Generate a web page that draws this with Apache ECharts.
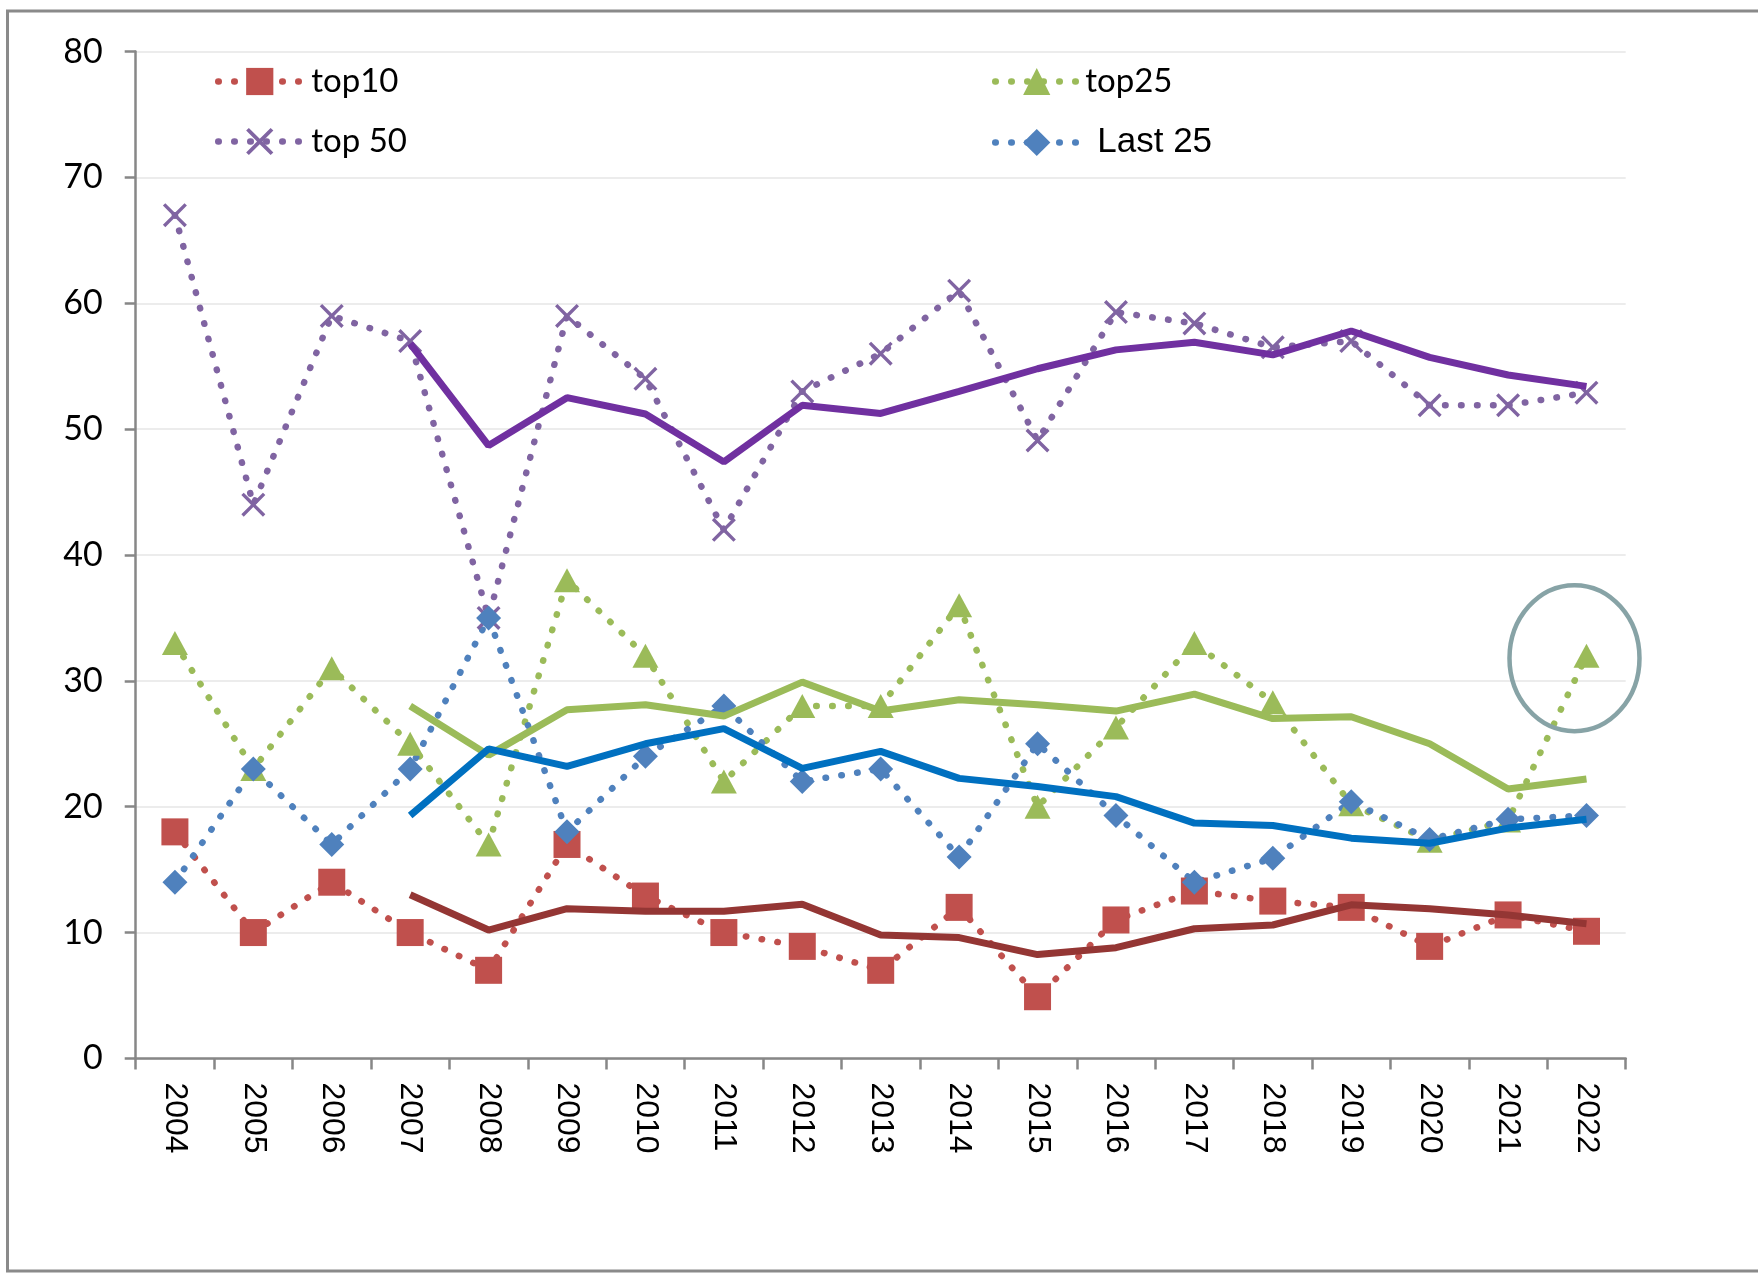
<!DOCTYPE html>
<html>
<head>
<meta charset="utf-8">
<script src="https://cdn.jsdelivr.net/npm/echarts@6/dist/echarts.min.js"></script>
<style>
html,body{margin:0;padding:0;background:#fff;}
#chart{width:1758px;height:1274px;}
</style>
</head>
<body>
<div id="chart"></div>
<script>
const years = ['2004','2005','2006','2007','2008','2009','2010','2011','2012','2013','2014','2015','2016','2017','2018','2019','2020','2021','2022'];
const yTicks = [0,10,20,30,40,50,60,70,80];

// dotted series (with markers)
const top10  = [18,10,14,10,7,17,12.9,10,8.9,7,12,4.9,11,13.3,12.5,12,8.9,11.4,10.1];
const top25  = [33,23,31,25,17,38,32,22,28,28,36,20,26.3,33,28.3,20.2,17.3,18.9,32];
const top50  = [67,44,59,57,35,59,54,42,53,56,61,49.1,59.3,58.4,56.5,57,51.9,51.9,52.9];
const last25 = [14,23,17,23,35,18,24,28,22,23,16,25,19.3,14,15.9,20.4,17.4,19,19.3];

// solid trend lines (start in 2007)
const top10Trend  = [null,null,null,13,10.2,11.9,11.7,11.7,12.25,9.8,9.6,8.25,8.8,10.3,10.6,12.2,11.9,11.4,10.7];
const top25Trend  = [null,null,null,28,24.1,27.7,28.1,27.2,29.9,27.6,28.5,28.1,27.6,28.95,27.0,27.15,25.0,21.4,22.2];
const top50Trend  = [null,null,null,56.8,48.7,52.5,51.2,47.4,51.9,51.25,53.0,54.8,56.3,56.9,55.9,57.8,55.7,54.3,53.4];
const last25Trend = [null,null,null,19.3,24.6,23.2,25.0,26.2,23.05,24.4,22.25,21.6,20.8,18.7,18.5,17.5,17.1,18.3,19.0];

const XPATH = 'path://M0,10L10,0L50,40L90,0L100,10L60,50L100,90L90,100L50,60L10,100L0,90L40,50Z';
const dotStyle = (c) => ({color:c, width:6.5, type:[0.5,15.5], cap:'round', join:'round'});

const chart = echarts.init(document.getElementById('chart'), null, {renderer:'canvas'});

function legendItem(name, left, top, font, size, pad){
  return {
    data:[name], left:left, top:top, padding:0, orient:'horizontal',
    itemWidth:87, itemHeight:34, selectedMode:false,
    lineStyle:{width:6.5, type:[0.5,15.5], cap:'round', join:'round', dashOffset:-2},
    textStyle:{fontFamily:font, fontSize:size, color:'#000', padding:[0,0,0,pad]}
  };
}

const option = {
  animation:false,
  backgroundColor:'#ffffff',
  grid:{left:135.7, right:132.3, top:51.6, bottom:215.6, containLabel:false},
  legend:[
    legendItem('top10', 213, 65, 'Lato', 33, 3),
    legendItem('top 50', 213, 125, 'Lato', 33, 3),
    legendItem('top25', 990, 65, 'Lato', 33, 0),
    legendItem('Last 25', 990, 125, 'Liberation Sans', 35, 12)
  ],
  xAxis:{
    type:'category', data:years, boundaryGap:true,
    axisLine:{lineStyle:{color:'#878787', width:2.5}},
    axisTick:{show:true, length:11, lineStyle:{color:'#878787', width:2.5}},
    axisLabel:{rotate:-90, fontFamily:'Liberation Sans', fontSize:32, color:'#000', margin:24, interval:0},
    splitLine:{show:false}
  },
  yAxis:{
    type:'value', min:yTicks[0], max:yTicks[yTicks.length-1], interval:10,
    axisLine:{show:true, lineStyle:{color:'#878787', width:2.5}},
    axisTick:{show:true, length:11, lineStyle:{color:'#878787', width:2.5}},
    axisLabel:{fontFamily:'Lato', fontSize:34, color:'#000', margin:33},
    splitLine:{show:true, lineStyle:{color:'#ececec', width:2}}
  },
  series:[
    {name:'top10', type:'line', data:top10, symbol:'rect', symbolSize:27,
     itemStyle:{color:'#C0504D'}, lineStyle:dotStyle('#C0504D'), z:2},
    {name:'top25', type:'line', data:top25, symbol:'triangle', symbolSize:[26,24],
     itemStyle:{color:'#9BBB59'}, lineStyle:dotStyle('#9BBB59'), z:2},
    {name:'top 50', type:'line', data:top50, symbol:XPATH, symbolSize:24,
     itemStyle:{color:'#8064A2'}, lineStyle:dotStyle('#8064A2'), z:2},
    {name:'Last 25', type:'line', data:last25, symbol:'diamond', symbolSize:[25,25],
     itemStyle:{color:'#4F81BD'}, lineStyle:dotStyle('#4F81BD'), z:2},
    {name:'top10 trend', type:'line', data:top10Trend, symbol:'none', connectNulls:false,
     lineStyle:{color:'#943634', width:7}, itemStyle:{color:'#943634'}, z:3},
    {name:'top25 trend', type:'line', data:top25Trend, symbol:'none',
     lineStyle:{color:'#9BBB59', width:7}, itemStyle:{color:'#9BBB59'}, z:3},
    {name:'top 50 trend', type:'line', data:top50Trend, symbol:'none',
     lineStyle:{color:'#7030A0', width:7}, itemStyle:{color:'#7030A0'}, z:3},
    {name:'Last 25 trend', type:'line', data:last25Trend, symbol:'none',
     lineStyle:{color:'#0070C0', width:7}, itemStyle:{color:'#0070C0'}, z:3}
  ]
};
chart.setOption(option);

// annotation ellipse around the last top25 point, plus outer frame
const p = chart.convertToPixel({seriesIndex:1}, [years.length-1, top25[top25.length-1]]);
chart.setOption({
  graphic:[
    {type:'rect', silent:true, shape:{x:7.5, y:11, width:1800, height:1260},
     style:{fill:'none', stroke:'#8a8a8a', lineWidth:3}, z:0},
    {type:'ellipse', silent:true, shape:{cx:p[0]-12, cy:p[1]+2.5, rx:65, ry:73},
     style:{fill:'none', stroke:'#87A3A6', lineWidth:4.5}, z:10}
  ]
});
</script>
</body>
</html>
